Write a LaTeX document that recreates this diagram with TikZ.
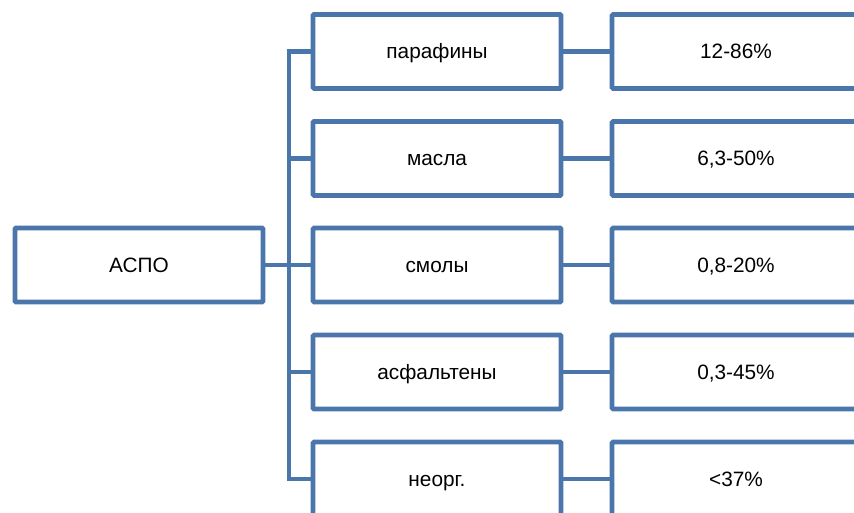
\documentclass[tikz,border=0pt]{standalone}
\usepackage{fontspec}
\setmainfont{Liberation Sans}
\definecolor{boxblue}{RGB}{74,118,172}
\tikzset{
  box/.style={draw=boxblue, line width=4.6pt, fill=white, rounded corners=1pt,
    minimum width=248pt, minimum height=74pt, inner sep=0pt,
    text height=15pt, text depth=0pt,
    font=\fontsize{20.8}{24}\selectfont, text=black},
  conn/.style={draw=boxblue, line width=4.6pt}
}
\begin{document}
\begin{tikzpicture}[x=1pt,y=-1pt]
\useasboundingbox (0,0) rectangle (854,513);
\clip (0,0) rectangle (854,513);
\node[box] (l) at (139,265) {АСПО};
\node[box] (m1) at (437,51.5) {парафины};
\node[box] (m2) at (437,158.5) {масла};
\node[box] (m3) at (437,265) {смолы};
\node[box] (m4) at (437,372) {асфальтены};
\node[box] (m5) at (437,479) {неорг.};
\node[box] (r1) at (736,51.5) {12-86\%};
\node[box] (r2) at (736,158.5) {6,3-50\%};
\node[box] (r3) at (736,265) {0,8-20\%};
\node[box] (r4) at (736,372) {0,3-45\%};
\node[box] (r5) at (736,479) {<37\%};
\coordinate (tx) at (289,265);
\draw[conn] (m1.west) -- (m1.west -| tx) -- (m5.west -| tx) -- (m5.west);
\draw[conn] (l.east) -- (m3.west);
\draw[conn] (m2.west) -- (m2.west -| tx);
\draw[conn] (m4.west) -- (m4.west -| tx);
\foreach \i in {1,...,5}{
  \draw[conn] (m\i.east) -- (r\i.west);
}
\end{tikzpicture}
\end{document}
